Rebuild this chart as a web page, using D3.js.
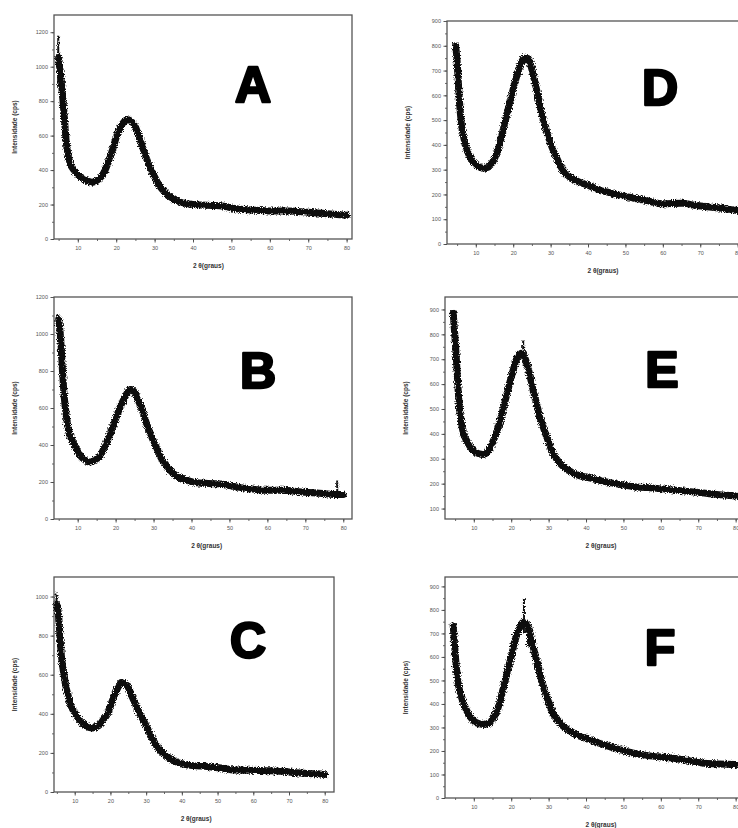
<!DOCTYPE html>
<html>
<head>
<meta charset="utf-8">
<script src="https://cdn.jsdelivr.net/npm/d3@7"></script>
<style>
  html, body { margin: 0; padding: 0; background: #fff; }
  svg { display: block; }
</style>
</head>
<body>
<svg id="chart" width="738" height="828"></svg>
<script>
// Difratogramas de raios X (2θ em graus vs. intensidade em cps), amostras A–F.

const xTicks = [10, 20, 30, 40, 50, 60, 70, 80];

const yTicksA = [0, 200, 400, 600, 800, 1000, 1200];
const yTicksB = [0, 200, 400, 600, 800, 1000, 1200];
const yTicksC = [0, 200, 400, 600, 800, 1000];
const yTicksD = [0, 100, 200, 300, 400, 500, 600, 700, 800, 900];
const yTicksE = [100, 200, 300, 400, 500, 600, 700, 800, 900];
const yTicksF = [0, 100, 200, 300, 400, 500, 600, 700, 800, 900];

// [2θ, intensidade]
const serieA = [[5,1050],[5.5,960],[6,840],[6.5,700],[7,560],[7.5,485],[8,440],[9,400],[10,372],[11,355],[12,342],[13,333],[14,330],[15,340],[16,360],[17,395],[18,450],[19,515],[20,590],[21,645],[22,680],[23,692],[24,682],[25,650],[26,590],[27,525],[28,460],[29,405],[30,360],[31,318],[32,288],[33,266],[34,246],[35,232],[36,220],[38,207],[40,200],[42,197],[45,195],[48,190],[50,180],[55,168],[60,163],[65,162],[70,155],[75,147],[80,138]];
const serieB = [[5,1080],[5.5,980],[6,800],[6.5,650],[7,560],[7.5,490],[8,450],[9,410],[10,365],[11,335],[12,318],[13,308],[14,312],[15,325],[16,345],[17,385],[18,430],[19,485],[20,540],[21,595],[22,640],[23,680],[24,700],[25,685],[26,640],[27,590],[28,525],[29,470],[30,420],[31,375],[32,330],[33,300],[34,272],[35,250],[37,222],[40,202],[42,195],[47,190],[51,177],[55,164],[60,155],[64,155],[69,146],[73,141],[77,133],[80,132]];
const serieC = [[5,960],[5.5,900],[6,760],[6.5,660],[7,600],[7.5,540],[8,505],[9,440],[10,405],[11,376],[12,355],[13,340],[14,330],[15,327],[16,333],[17,344],[18,370],[19,395],[20,440],[21,490],[22,530],[23,560],[24,555],[25,535],[26,490],[27,450],[28,410],[29,375],[30,338],[31,300],[32,265],[33,235],[34,212],[35,195],[37,168],[39,150],[43,135],[47,131],[51,123],[54,114],[59,111],[64,109],[68,106],[73,97],[78,93],[80,89]];
const serieD = [[4.6,800],[5,740],[5.3,660],[5.7,560],[6.2,480],[7,415],[7.5,385],[8.5,350],[9.3,331],[10,320],[11,310],[12,306],[13,308],[14,320],[15,345],[16,385],[17,440],[18,505],[19,565],[20,625],[21,680],[22,725],[23,750],[24,748],[25,705],[26,640],[27,570],[28,505],[29,452],[30,405],[31,368],[32,335],[33,305],[34,285],[35,272],[36,262],[38,248],[40,237],[42,224],[45,210],[47,202],[51,189],[56,174],[60,162],[65,164],[69,155],[74,147],[80,135]];
const serieE = [[4.5,885],[5,780],[5.4,686],[5.8,580],[6.3,485],[7.2,404],[8,375],[8.9,351],[10,332],[10.7,324],[12,318],[12.5,317],[13.5,325],[14.3,344],[15,365],[16,404],[17,450],[17.8,498],[19,570],[19.6,605],[20.5,655],[21.4,699],[22.3,720],[23,725],[24,690],[25,635],[25.8,579],[26.8,520],[27.6,471],[28.5,430],[29.4,391],[30.3,355],[31.1,324],[32.5,292],[33.8,270],[35.5,252],[37.4,237],[40.9,223],[44.5,210],[48.9,197],[53.3,187],[57.8,183],[62.2,176],[66.7,170],[71.1,163],[75.5,156],[80,150]];
const serieF = [[4.5,732],[4.9,640],[5.3,560],[5.8,490],[6.5,440],[7.2,405],[8,375],[8.9,348],[10,328],[10.7,320],[12.5,313],[14.3,320],[15,335],[16,363],[17,410],[17.8,462],[18.7,520],[19.6,576],[20.5,635],[21.4,690],[22.3,725],[23.1,746],[24,740],[24.5,732],[25.2,690],[25.8,647],[26.7,590],[27.6,533],[28.5,480],[29.4,434],[30.3,395],[31.1,363],[32.5,330],[33.8,306],[35.6,286],[37.4,270],[40.9,249],[44.5,228],[48.9,206],[53.3,189],[57.8,178],[62.2,171],[66.7,161],[71.1,149],[75.5,145],[80,142]];

// picos isolados: [2θ, mínimo, máximo]
const picosA = [[4.9, 880, 1180]];
const picosB = [[4.8, 950, 1110], [78.4, 140, 208]];
const picosC = [[4.9, 870, 1020]];
const picosD = [[4.5, 700, 810]];
const picosE = [[23.2, 680, 775]];
const picosF = [[23.4, 700, 850], [24.5, 640, 700]];

const rotulos = ["A", "B", "C", "D", "E", "F"];

const svg = d3.select("#chart");

// textura do traço ruidoso
const defs = svg.append("defs");
const filt = defs.append("filter").attr("id", "ruido")
  .attr("x", "-5%").attr("y", "-5%").attr("width", "110%").attr("height", "110%");
filt.append("feTurbulence").attr("type", "fractalNoise")
  .attr("baseFrequency", "0.9").attr("numOctaves", 2).attr("seed", 3).attr("result", "t");
filt.append("feDisplacementMap").attr("in", "SourceGraphic").attr("in2", "t")
  .attr("scale", 5).attr("xChannelSelector", "R").attr("yChannelSelector", "G");

const paineis = [
  { serie: serieA, picos: picosA, yt: yTicksA, box: [54, 15, 352, 239], xd: [3.8, 81.4], yd: [0, 1300], letra: [253, 102] },
  { serie: serieB, picos: picosB, yt: yTicksB, box: [54, 297, 352, 519], xd: [3.76, 82.3], yd: [0, 1200], letra: [258, 388] },
  { serie: serieC, picos: picosC, yt: yTicksC, box: [54, 577, 334, 792], xd: [4.2, 82.6], yd: [0, 1100], letra: [248, 658] },
  { serie: serieD, picos: picosD, yt: yTicksD, box: [447, 21, 747, 244], xd: [2.3, 82.5], yd: [0, 900], letra: [660, 105] },
  { serie: serieE, picos: picosE, yt: yTicksE, box: [445, 297, 745, 519], xd: [2.3, 82.5], yd: [58, 950], letra: [662, 387] },
  { serie: serieF, picos: picosF, yt: yTicksF, box: [445, 577, 745, 798], xd: [2.3, 82.5], yd: [0, 940], letra: [660, 665] }
];

const fonte = "'Liberation Sans', Arial, sans-serif";

paineis.forEach((p, i) => {
  const [x0, y0, x1, y1] = p.box;
  const x = d3.scaleLinear().domain(p.xd).range([x0, x1]);
  const y = d3.scaleLinear().domain(p.yd).range([y1, y0]);
  const g = svg.append("g");

  // eixo x: rótulos a cada 10°, marcas menores a cada 5°
  const minorX = d3.range(5, 81, 5);
  g.append("g").attr("transform", `translate(0,${y1})`)
    .call(d3.axisBottom(x).tickValues(minorX).tickSize(2).tickFormat(""))
    .call(a => a.select(".domain").remove())
    .call(a => a.selectAll("line").attr("stroke", "#444").attr("stroke-width", 0.8));
  g.append("g").attr("transform", `translate(0,${y1})`)
    .call(d3.axisBottom(x).tickValues(xTicks).tickSize(3.5).tickPadding(4))
    .call(a => a.select(".domain").remove())
    .call(a => a.selectAll("line").attr("stroke", "#444").attr("stroke-width", 0.9))
    .call(a => a.selectAll("text").attr("font-family", fonte).attr("font-size", 5.5).attr("fill", "#555"));

  // eixo y
  const passo = p.yt[1] - p.yt[0];
  const minorY = d3.range(p.yt[0] - passo / 2, p.yd[1], passo / 2).filter(v => v >= p.yd[0]);
  g.append("g").attr("transform", `translate(${x0},0)`)
    .call(d3.axisLeft(y).tickValues(minorY).tickSize(2).tickFormat(""))
    .call(a => a.select(".domain").remove())
    .call(a => a.selectAll("line").attr("stroke", "#444").attr("stroke-width", 0.8));
  g.append("g").attr("transform", `translate(${x0},0)`)
    .call(d3.axisLeft(y).tickValues(p.yt).tickSize(3.5).tickPadding(2.5).tickFormat(d3.format("d")))
    .call(a => a.select(".domain").remove())
    .call(a => a.selectAll("line").attr("stroke", "#444").attr("stroke-width", 0.9))
    .call(a => a.selectAll("text").attr("font-family", fonte).attr("font-size", 5.5).attr("fill", "#555"));

  // moldura
  g.append("rect").attr("x", x0).attr("y", y0).attr("width", x1 - x0).attr("height", y1 - y0)
    .attr("fill", "none").attr("stroke", "#555").attr("stroke-width", 1.3);

  // traço do difratograma
  const linha = d3.line().x(d => x(d[0])).y(d => y(d[1])).curve(d3.curveMonotoneX);
  const tr = g.append("g").attr("filter", "url(#ruido)");
  tr.append("path").datum(p.serie).attr("d", linha)
    .attr("fill", "none").attr("stroke", "#111").attr("stroke-width", 7)
    .attr("stroke-linejoin", "round").attr("stroke-linecap", "round");
  tr.selectAll("line.pico").data(p.picos).join("line").attr("class", "pico")
    .attr("x1", d => x(d[0])).attr("x2", d => x(d[0]))
    .attr("y1", d => y(d[1])).attr("y2", d => y(d[2]))
    .attr("stroke", "#111").attr("stroke-width", 2);

  // títulos dos eixos
  g.append("text").attr("x", x(44)).attr("y", y1 + 29)
    .attr("text-anchor", "middle").attr("font-family", fonte).attr("font-size", 6.5)
    .attr("font-weight", "bold").attr("fill", "#333").text("2 θ(graus)");
  g.append("text")
    .attr("transform", `translate(${x0 - 37},${(y0 + y1) / 2}) rotate(-90)`)
    .attr("text-anchor", "middle").attr("font-family", fonte).attr("font-size", 6.5)
    .attr("font-weight", "bold").attr("fill", "#333").text("Intensidade (cps)");

  // letra da amostra
  g.append("text").attr("x", p.letra[0]).attr("y", p.letra[1])
    .attr("text-anchor", "middle").attr("font-family", fonte).attr("font-size", 50)
    .attr("font-weight", "bold").attr("fill", "#000").attr("stroke", "#000").attr("stroke-width", 2.5)
    .attr("stroke-linejoin", "round")
    .text(rotulos[i]);
});
</script>
</body>
</html>
